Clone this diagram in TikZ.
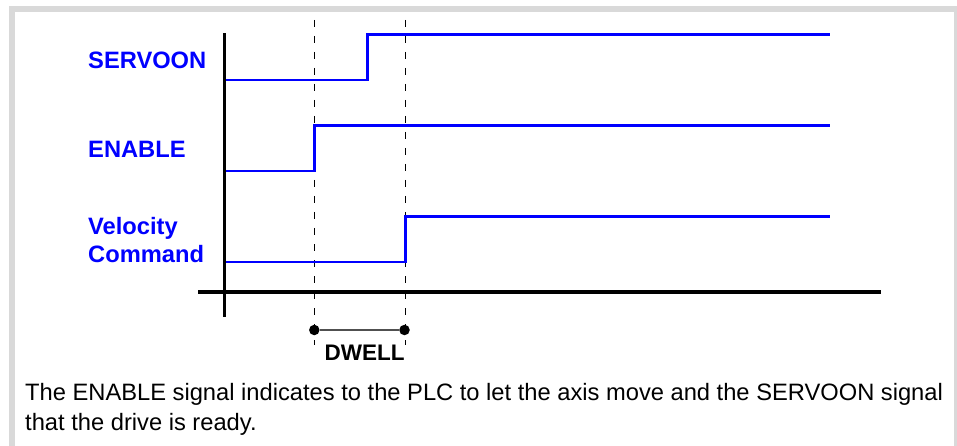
\documentclass[tikz,border=0pt]{standalone}
\usepackage{fontspec}
\setmainfont{Liberation Sans}
\definecolor{framegray}{HTML}{D9D9D9}
\definecolor{sigblue}{HTML}{0000FF}
\definecolor{dwellgray}{HTML}{505050}
\tikzset{
  signal/.style={draw=sigblue, line width=2.7pt, line join=miter},
  axisline/.style={draw=black, line width=3.6pt},
  guide/.style={draw=black, line width=0.9pt, dash pattern=on 7.3pt off 8.7pt},
  siglabel/.style={text=sigblue, font=\fontsize{23.7}{28}\selectfont\bfseries, inner sep=0pt, anchor=base west, align=left},
  bodytext/.style={text=black, font=\fontsize{23.7}{30}\selectfont, inner sep=0pt, anchor=base west, align=left},
  dot/.style={circle, fill=black, inner sep=0pt, minimum size=10.5pt},
}
\begin{document}
\begin{tikzpicture}[x=1pt,y=-1pt]
\useasboundingbox (0,0) rectangle (957,446);
\clip (0,0) rectangle (957,446);
% frame
\draw[framegray, line width=6pt] (12,470) -- (12,9) -- (957,9) -- (957,470);
% guides
\coordinate (g1t) at (314.3,20);
\coordinate (g1b) at (314.3,345);
\coordinate (g2t) at (405.3,20);
\coordinate (g2b) at (405.3,345);
\draw[guide] (g1t) -- (g1b);
\draw[guide] (g2t) -- (g2b);
% signals
\coordinate (s0) at (224,80);
\coordinate (s1) at (367.5,80);
\coordinate (s2) at (367.5,34.3);
\coordinate (s3) at (829.5,34.3);
\draw[signal] (s0) -- (s1) -- (s2) -- (s3);
\coordinate (e0) at (224,171);
\coordinate (e1) at (314.3,171);
\coordinate (e2) at (314.3,125.7);
\coordinate (e3) at (829.5,125.7);
\draw[signal] (e0) -- (e1) -- (e2) -- (e3);
\coordinate (v0) at (224,262);
\coordinate (v1) at (405.5,262);
\coordinate (v2) at (405.5,216.7);
\coordinate (v3) at (829.5,216.7);
\draw[signal] (v0) -- (v1) -- (v2) -- (v3);
% axes
\coordinate (ya) at (224.6,33.3);
\coordinate (yb) at (224.6,316.7);
\coordinate (xa) at (198.3,292);
\coordinate (xb) at (881,292);
\draw[axisline] (ya) -- (yb);
\draw[axisline] (xa) -- (xb);
% labels
\node[siglabel] (lservo) at (88,68.3) {SERVOON};
\node[siglabel] (lenable) at (88,157.7) {ENABLE};
\node[siglabel] (lvel) at (88,262) {Velocity\\Command};
% dwell
\node[dot] (d1) at (314.3,330) {};
\node[dot] (d2) at (404.5,330) {};
\draw[dwellgray, line width=1.5pt] (d1) -- (d2);
\node[text=black, font=\fontsize{22.5}{26}\selectfont\bfseries, inner sep=0pt, anchor=base] (dwell) at (364.5,360.7) {DWELL};
% body
\node[bodytext] (body) at (25,430) {The ENABLE signal indicates to the PLC to let the axis move and the SERVOON signal\\that the drive is ready.};
\end{tikzpicture}
\end{document}
